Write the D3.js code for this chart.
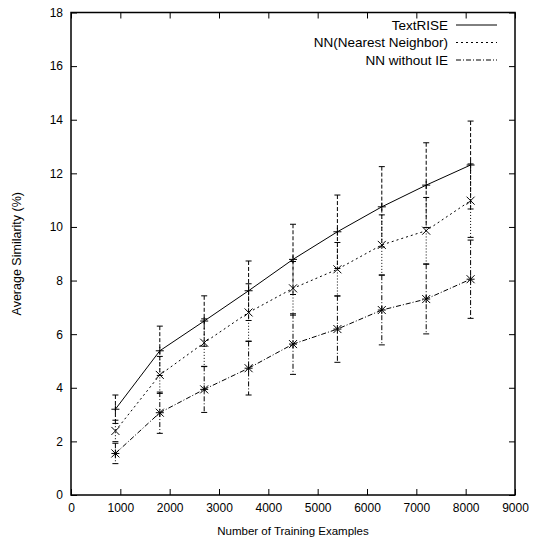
<!DOCTYPE html>
<html><head><meta charset="utf-8">
<script src="https://cdn.jsdelivr.net/npm/d3@7"></script>
<style>body{margin:0;background:#fff;} svg{display:block;} text{font-family:"Liberation Sans",Arial,sans-serif;}</style>
</head><body>
<svg id="c" width="538" height="544"></svg>
<script>
const xValues = [900, 1800, 2700, 3600, 4500, 5400, 6300, 7200, 8100];
const textRise = [3.2, 5.38, 6.49, 7.62, 8.79, 9.82, 10.75, 11.56, 12.31];
const textRiseErr = [0.53, 0.92, 0.94, 1.11, 1.31, 1.37, 1.50, 1.58, 1.64];
const nn = [2.39, 4.48, 5.68, 6.81, 7.71, 8.42, 9.33, 9.86, 10.98];
const nnErr = [0.40, 0.69, 0.89, 1.07, 1.00, 1.00, 1.12, 1.24, 1.37];
const nnNoIE = [1.55, 3.07, 3.94, 4.73, 5.63, 6.19, 6.90, 7.31, 8.05];
const nnNoIEErr = [0.38, 0.77, 0.86, 1.00, 1.13, 1.24, 1.30, 1.30, 1.46];
const xTicks = [0,1000,2000,3000,4000,5000,6000,7000,8000,9000];
const yTicks = [0,2,4,6,8,10,12,14,16,18];
const seriesNames = ["TextRISE", "NN(Nearest Neighbor)", "NN without IE"];

const svg = d3.select("#c");
const L = 71, R = 515, T = 12.5, B = 495;
const x = d3.scaleLinear().domain([0, 9000]).range([L, R]);
const y = d3.scaleLinear().domain([0, 18]).range([B, T]);

const series = [
  {name: seriesNames[0], vals: textRise, err: textRiseErr, dash: null, edash: "4,2", marker: "plus"},
  {name: seriesNames[1], vals: nn, err: nnErr, dash: "2,3", edash: "1,2", marker: "cross"},
  {name: seriesNames[2], vals: nnNoIE, err: nnNoIEErr, dash: "5,2,1,2", edash: "5,2,1,2", marker: "star"}
];

const tl = 6;
const gx = svg.append("g").attr("transform", `translate(0,${B})`)
  .call(d3.axisBottom(x).tickValues(xTicks).tickSize(-tl).tickPadding(8).tickFormat(d3.format("d")));
const gxt = svg.append("g").attr("transform", `translate(0,${T})`)
  .call(d3.axisTop(x).tickValues(xTicks).tickSize(-tl).tickFormat(""));
const gy = svg.append("g").attr("transform", `translate(${L},0)`)
  .call(d3.axisLeft(y).tickValues(yTicks).tickSize(-tl).tickPadding(8).tickFormat(d3.format("d")));
const gyr = svg.append("g").attr("transform", `translate(${R},0)`)
  .call(d3.axisRight(y).tickValues(yTicks).tickSize(-tl).tickFormat(""));
[gx, gxt, gy, gyr].forEach(g => {
  g.select(".domain").remove();
  g.selectAll(".tick line").attr("stroke", "#000").attr("stroke-width", 1);
  g.selectAll("text").attr("font-size", 12).attr("fill", "#000")
    .attr("font-family", '"Liberation Sans",Arial,sans-serif');
});
svg.append("rect").attr("x", L).attr("y", T).attr("width", R - L).attr("height", B - T)
  .attr("fill", "none").attr("stroke", "#000").attr("stroke-width", 1.5);

svg.append("text").attr("x", (L + R) / 2).attr("y", 535).attr("text-anchor", "middle")
  .attr("font-size", 11.5).text("Number of Training Examples");
svg.append("text").attr("transform", `translate(21,${(T + B) / 2}) rotate(-90)`)
  .attr("text-anchor", "middle").attr("font-size", 12.5).text("Average Similarity (%)");

function drawMarker(g, cx, cy, type) {
  const s = 4;
  const p = d3.path();
  if (type === "plus" || type === "star") {
    p.moveTo(cx - s, cy); p.lineTo(cx + s, cy);
    p.moveTo(cx, cy - s); p.lineTo(cx, cy + s);
  }
  if (type === "cross" || type === "star") {
    p.moveTo(cx - s, cy - s); p.lineTo(cx + s, cy + s);
    p.moveTo(cx - s, cy + s); p.lineTo(cx + s, cy - s);
  }
  g.append("path").attr("d", p.toString()).attr("stroke", "#000").attr("stroke-width", 1).attr("fill", "none");
}

const line = d3.line().x(d => x(d[0])).y(d => y(d[1]));
series.forEach(s => {
  const g = svg.append("g");
  const pts = xValues.map((xv, i) => [xv, s.vals[i]]);
  xValues.forEach((xv, i) => {
    const cx = x(xv), y1 = y(s.vals[i] + s.err[i]), y2 = y(s.vals[i] - s.err[i]);
    g.append("line").attr("x1", cx).attr("x2", cx).attr("y1", y1).attr("y2", y2)
      .attr("stroke", "#000").attr("stroke-width", 1).attr("stroke-dasharray", s.edash);
    [y1, y2].forEach(yy => g.append("line").attr("x1", cx - 3).attr("x2", cx + 3)
      .attr("y1", yy).attr("y2", yy).attr("stroke", "#000").attr("stroke-width", 1));
  });
  g.append("path").attr("d", line(pts)).attr("fill", "none").attr("stroke", "#000")
    .attr("stroke-width", 1).attr("stroke-dasharray", s.dash);
  pts.forEach(p => drawMarker(g, x(p[0]), y(p[1]), s.marker));
});

series.forEach((s, i) => {
  const ly = 25 + i * 17.5;
  svg.append("text").attr("x", 448).attr("y", ly + 4.5).attr("text-anchor", "end")
    .attr("font-size", 13.5).text(s.name);
  svg.append("line").attr("x1", 456).attr("x2", 497).attr("y1", ly).attr("y2", ly)
    .attr("stroke", "#000").attr("stroke-width", 1).attr("stroke-dasharray", s.dash);
});
</script>
</body></html>
